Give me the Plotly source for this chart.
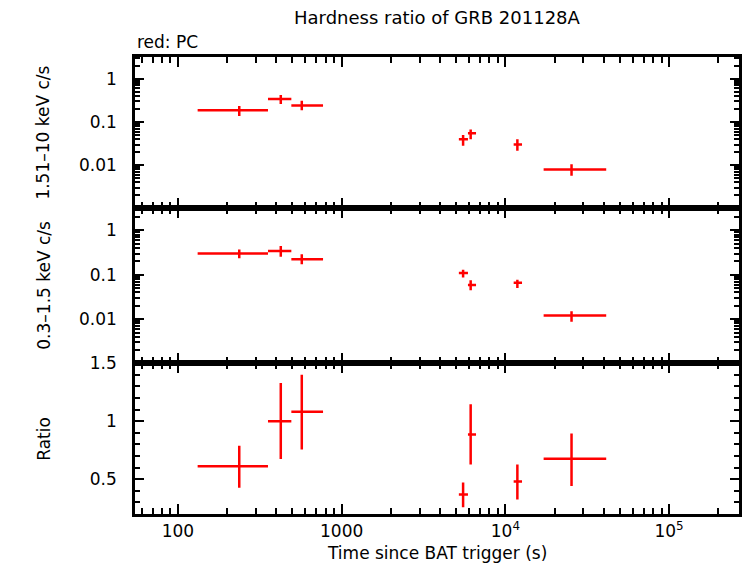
import plotly.graph_objects as go

# time bins (s)
t = [237, 425, 571, 5520, 6140, 11840, 25360]
t_lo = [132, 355, 493, 5200, 5910, 11240, 17130]
t_hi = [355, 493, 770, 5910, 6620, 12640, 41300]

# 1.51-10 keV count rate
hard = [0.186, 0.339, 0.242, 0.0395, 0.0545, 0.030, 0.0079]
hard_lo = [0.137, 0.26, 0.186, 0.028, 0.0395, 0.0215, 0.0057]
hard_hi = [0.233, 0.42, 0.31, 0.050, 0.067, 0.0395, 0.0104]

# 0.3-1.5 keV count rate
soft = [0.30, 0.34, 0.223, 0.109, 0.059, 0.066, 0.0121]
soft_lo = [0.235, 0.255, 0.173, 0.087, 0.045, 0.05, 0.0087]
soft_hi = [0.37, 0.44, 0.288, 0.129, 0.075, 0.077, 0.0151]

# hardness ratio
ratio = [0.612, 1.0, 1.082, 0.368, 0.885, 0.48, 0.676]
ratio_lo = [0.427, 0.674, 0.756, 0.259, 0.626, 0.324, 0.441]
ratio_hi = [0.788, 1.33, 1.40, 0.471, 1.146, 0.626, 0.894]

x_ticks = [100, 1000, 1e4, 1e5]
x_ticktext = ["100", "1000", "10<sup>4</sup>", "10<sup>5</sup>"]
y_ticks = [0.01, 0.1, 1]
y_ticktext = ["0.01", "0.1", "1"]

RED = "#ff0000"
FONT = "DejaVu Sans"

xminor = [m * 10 ** e for e in range(1, 6) for m in range(2, 10)]
yminor = [m * 10.0 ** e for e in range(-3, 1) for m in range(2, 10)]


def err_trace(y, lo, hi, xa, ya):
    return go.Scatter(
        x=t, y=y, xaxis=xa, yaxis=ya, mode="markers",
        marker=dict(size=1, color=RED),
        error_x=dict(type="data", symmetric=False,
                     array=[h - v for h, v in zip(t_hi, t)],
                     arrayminus=[v - l for v, l in zip(t, t_lo)],
                     color=RED, thickness=2.5, width=0),
        error_y=dict(type="data", symmetric=False,
                     array=[h - v for h, v in zip(hi, y)],
                     arrayminus=[v - l for v, l in zip(y, lo)],
                     color=RED, thickness=2.5, width=0),
        showlegend=False, hoverinfo="skip",
    )


fig = go.Figure()
fig.add_trace(err_trace(hard, hard_lo, hard_hi, "x", "y"))
fig.add_trace(err_trace(soft, soft_lo, soft_hi, "x2", "y2"))
fig.add_trace(err_trace(ratio, ratio_lo, ratio_hi, "x3", "y3"))

axis_common = dict(
    showline=True, linecolor="black", linewidth=2.5, mirror="allticks",
    ticks="inside", tickcolor="black", tickwidth=2, showgrid=False,
    zeroline=False, tickfont=dict(family=FONT, size=17, color="black"),
    automargin=False,
)

xax = dict(axis_common, type="log", range=[1.738, 5.427],
           tickvals=x_ticks, ticktext=x_ticktext, ticklen=10,
           minor=dict(tickvals=xminor, ticks="inside", ticklen=6,
                      tickwidth=2, tickcolor="black", showgrid=False),
           ticklabelstandoff=0)

logy = dict(axis_common, type="log", range=[-2.99, 0.505],
            tickvals=y_ticks, ticktext=y_ticktext, ticklen=9,
            minor=dict(tickvals=yminor, ticks="inside", ticklen=5,
                       tickwidth=2, tickcolor="black", showgrid=False),
            ticklabelstandoff=12)

fig.update_layout(
    width=742, height=566,
    margin=dict(l=135, r=3, t=57, b=52),
    paper_bgcolor="white", plot_bgcolor="white",
    font=dict(family=FONT, size=17, color="black"),
    xaxis=dict(xax, anchor="y", showticklabels=False, matches="x3"),
    xaxis2=dict(xax, anchor="y2", showticklabels=False, matches="x3"),
    xaxis3=dict(xax, anchor="y3"),
    yaxis=dict(logy, domain=[0.670, 1.0], anchor="x"),
    yaxis2=dict(logy, domain=[0.330, 0.670], anchor="x2"),
    yaxis3=dict(axis_common, domain=[0.0, 0.330], anchor="x3",
                range=[0.2, 1.5], tickvals=[0.5, 1, 1.5],
                ticklen=9, ticklabelstandoff=12,
                minor=dict(dtick=0.1, ticks="inside", ticklen=5,
                           tickwidth=2, tickcolor="black", showgrid=False)),
)

notes = [
    ("Hardness ratio of GRB 201128A", 0.5, 1.0875, "center", 0, 18),
    ("red: PC", 0.0, 1.033, "left", 0, 17),
    ("1.51\u201310 keV c/s", -0.152, 0.835, "center", -90, 17),
    ("0.3\u20131.5 keV c/s", -0.152, 0.5, "center", -90, 17),
    ("Ratio", -0.152, 0.165, "center", -90, 17),
    ("Time since BAT trigger (s)", 0.5, -0.085, "center", 0, 17),
]
for text, x, y, anchor, ang, size in notes:
    fig.add_annotation(text=text, x=x, y=y, xref="paper", yref="paper",
                       xanchor=anchor, yanchor="middle", textangle=ang,
                       showarrow=False, font=dict(family=FONT, size=size))

fig.write_html("out.html", config={"displayModeBar": False},
               post_script="document.body.style.margin='0';"
                           "document.body.style.overflow='hidden';")
